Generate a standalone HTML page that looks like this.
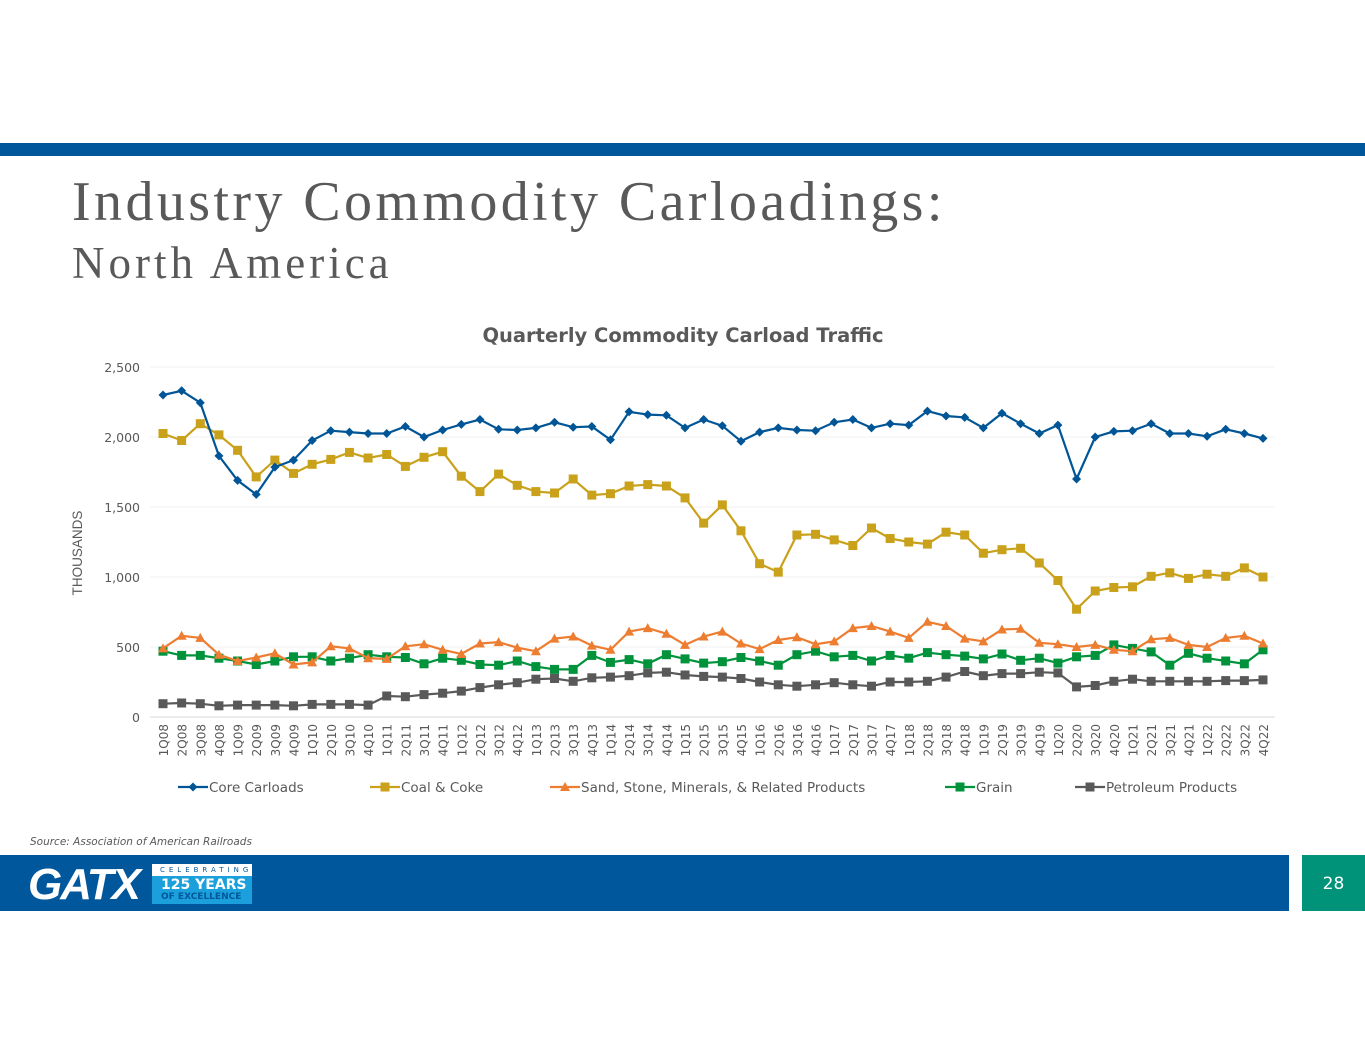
<!DOCTYPE html>
<html><head><meta charset="utf-8"><style>
body{margin:0;width:1365px;height:1055px;background:#fff;position:relative;overflow:hidden;font-family:"DejaVu Sans","Liberation Sans",sans-serif}
.abs{position:absolute}
</style></head><body>
<div class="abs" style="left:0;top:143px;width:1365px;height:13px;background:#00579c"></div>
<div class="abs" style="left:72px;top:174px;font-family:'Liberation Serif',serif;font-size:56px;color:#595959;line-height:1;letter-spacing:3.4px;white-space:nowrap">Industry Commodity Carloadings:</div>
<div class="abs" style="left:72px;top:241px;font-family:'Liberation Serif',serif;font-size:45px;color:#595959;line-height:1;letter-spacing:4px;white-space:nowrap">North America</div>
<svg class="abs" style="left:0;top:0" width="1365" height="840" id="chart"></svg>
<div class="abs" style="left:30px;top:836px;font-size:10.5px;font-style:italic;color:#595959">Source: Association of American Railroads</div>
<div class="abs" style="left:0;top:855px;width:1289px;height:56px;background:#00579c"></div>
<div class="abs" style="left:28px;top:862px;font-family:'Liberation Sans',sans-serif;font-size:44px;font-weight:900;color:#fff;font-style:italic;letter-spacing:-2px;line-height:46px">GATX</div>
<div class="abs" style="left:152px;top:864px;width:100px;height:40px;background:#fff"></div>
<div class="abs" style="left:152px;top:876px;width:100px;height:28px;background:#1ba0dc"></div>
<div class="abs" style="left:160px;top:866px;font-size:7px;letter-spacing:4px;color:#00579c">CELEBRATING</div>
<div class="abs" style="left:161px;top:877px;font-size:14px;font-weight:bold;color:#fff">125 YEARS</div>
<div class="abs" style="left:161px;top:892px;font-size:9px;font-weight:bold;color:#00579c">OF EXCELLENCE</div>
<div class="abs" style="left:1302px;top:855px;width:63px;height:56px;background:#00937a;color:#fff;font-size:17px;text-align:center;line-height:58px">28</div>
<script>
const categories=[];for(let y=8;y<=22;y++)for(let q=1;q<=4;q++)categories.push(q+'Q'+String(y).padStart(2,'0'));
const yTicks=[0,500,1000,1500,2000,2500];
const coreCarloads=[2300,2330,2245,1865,1690,1590,1785,1835,1975,2045,2035,2025,2025,2075,2000,2050,2090,2125,2055,2050,2065,2105,2070,2075,1980,2180,2160,2155,2065,2125,2080,1970,2035,2065,2050,2045,2105,2125,2065,2095,2085,2185,2150,2140,2065,2170,2095,2025,2085,1700,2000,2040,2045,2095,2025,2025,2005,2055,2025,1990];
const coalCoke=[2025,1975,2095,2015,1905,1715,1835,1740,1805,1840,1890,1850,1875,1790,1855,1895,1720,1610,1735,1655,1610,1600,1700,1585,1595,1650,1660,1650,1565,1385,1515,1330,1095,1035,1300,1305,1265,1225,1350,1275,1250,1235,1320,1300,1170,1195,1205,1100,975,770,900,925,930,1005,1030,990,1020,1005,1065,1000];
const sandStone=[490,580,565,445,400,425,455,375,390,505,490,420,415,505,520,480,450,525,535,495,470,560,575,510,480,610,635,595,515,575,610,525,485,550,570,520,540,635,650,610,565,680,650,560,540,625,630,530,520,500,515,480,470,555,565,515,500,565,580,525];
const grain=[470,440,440,420,400,375,400,430,430,400,420,445,430,425,380,420,405,375,370,400,360,340,340,440,390,410,380,445,415,385,395,425,400,370,445,470,430,440,400,440,420,460,445,435,415,450,405,420,385,430,440,515,490,465,370,455,420,400,380,480];
const petroleum=[95,100,95,80,85,85,85,80,90,90,90,85,150,145,160,170,185,210,230,245,270,275,255,280,285,295,315,320,300,290,285,275,250,230,220,230,245,230,220,250,250,255,285,325,295,310,310,320,315,215,225,255,270,255,255,255,255,260,260,265];
const seriesNames=['Core Carloads','Coal & Coke','Sand, Stone, Minerals, & Related Products','Grain','Petroleum Products'];
const NS='http://www.w3.org/2000/svg',svg=document.getElementById('chart');
const X0=163,X1=1263,Y0=717,Y1=367,YMAX=2500;
const xs=i=>X0+(X1-X0)*i/(categories.length-1);
const ys=v=>Y0-(Y0-Y1)*v/YMAX;
function mk(t,a,p){const e=document.createElementNS(NS,t);for(const k in a)e.setAttribute(k,a[k]);(p||svg).appendChild(e);return e;}
let t=mk('text',{x:683,y:342,'text-anchor':'middle','font-size':19.5,'font-weight':'bold',fill:'#595959'});t.textContent='Quarterly Commodity Carload Traffic';

yTicks.forEach(v=>{const g=mk('line',{x1:150,x2:1275,y1:ys(v),y2:ys(v),stroke:v?'#f0f0f0':'#d9d9d9'});

const l=mk('text',{x:140,y:ys(v)+5,'text-anchor':'end','font-size':12.5,fill:'#595959'});l.textContent=v.toLocaleString('en-US');
});
t=mk('text',{transform:'translate(82,553) rotate(-90)','text-anchor':'middle','font-size':13.5,fill:'#595959','font-family':'Liberation Sans, sans-serif'});t.textContent='THOUSANDS';

categories.forEach((c,i)=>{const l=mk('text',{transform:`translate(${xs(i)+5},724) rotate(-90)`,'text-anchor':'end','font-size':12,fill:'#595959'});l.textContent=c;
});
const colors=['#005596','#c9a11a','#ed7d31','#00933c','#595959'];
const shapes=['diamond','square','triangle','square','square'];
function marker(shape,x,y,c,p){if(shape==='diamond')return mk('polygon',{points:`${x},${y-4.5} ${x+4.5},${y} ${x},${y+4.5} ${x-4.5},${y}`,fill:c},p);
if(shape==='triangle')return mk('polygon',{points:`${x},${y-5} ${x+5},${y+4} ${x-5},${y+4}`,fill:c},p);
return mk('rect',{x:x-4.5,y:y-4.5,width:9,height:9,fill:c},p);}
const allData=[coreCarloads,coalCoke,sandStone,grain,petroleum];
const order=[4,3,2,1,0];
order.forEach(s=>{const d=allData[s];const g=mk('g',{});


mk('polyline',{points:d.map((v,i)=>xs(i)+','+ys(v)).join(' '),fill:'none',stroke:colors[s],'stroke-width':2.2},g);
d.forEach((v,i)=>{const m=marker(shapes[s],xs(i),ys(v),colors[s],g);});});
const legX=[178,370,550,945,1075];
seriesNames.forEach((n,s)=>{const g=mk('g',{});
mk('line',{x1:legX[s],x2:legX[s]+30,y1:787,y2:787,stroke:colors[s],'stroke-width':2.2},g);
marker(shapes[s],legX[s]+15,787,colors[s],g);
const l=mk('text',{x:legX[s]+31,y:792,'font-size':13.5,fill:'#595959'},g);l.textContent=n;});
</script>
</body></html>
